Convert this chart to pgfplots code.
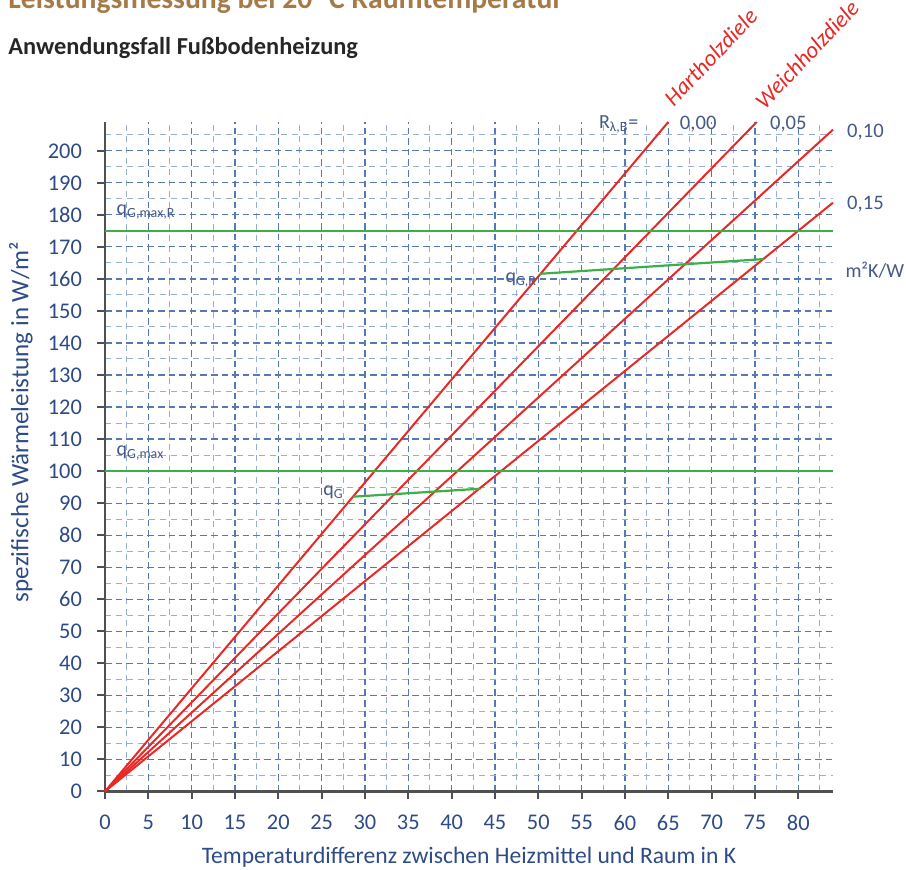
\documentclass[border=0pt]{standalone}
\usepackage{fontspec}
\setmainfont{Carlito}
\usepackage{pgfplots}
\pgfplotsset{compat=1.18}
\definecolor{tickblue}{RGB}{45,75,135}
\definecolor{gridmaj}{RGB}{85,120,185}
\definecolor{gridmin}{RGB}{150,175,215}
\definecolor{redl}{RGB}{232,40,36}
\definecolor{greenl}{RGB}{60,175,70}
\definecolor{annot}{RGB}{70,90,135}
\definecolor{titlebrown}{RGB}{165,122,70}
\definecolor{axisgray}{RGB}{80,80,80}
\begin{document}
\begin{tikzpicture}
\begin{axis}[
  at={(0,0)}, anchor=south west, scale only axis,
  width=364pt, height=334.7pt,
  xmin=0, xmax=84, ymin=0, ymax=209,
  axis lines*=left,
  axis line style={axisgray, line width=1.2pt, -},
  xtick={0,5,...,80}, ytick={0,10,...,200},
  minor xtick={2.5,7.5,...,82.5}, minor ytick={5,15,...,205},
  grid=both,
  major grid style={gridmaj, line width=0.6pt, dash pattern=on 3.3pt off 2pt},
  minor grid style={gridmin, line width=0.5pt, dash pattern=on 3pt off 2.5pt},
  tick align=outside, major tick length=4pt, minor tick length=0pt,
  tick style={axisgray, line width=1pt},
  /pgf/number format/assume math mode=true,
  xticklabel style={font=\fontsize{11.2}{13}\selectfont, text=tickblue, yshift=-4.5pt},
  yticklabel style={font=\fontsize{11.2}{13}\selectfont, text=tickblue, xshift=-4pt},
  clip=false,
]
% red lines (R = 0.00, 0.05, 0.10, 0.15 m2K/W)
\addplot[redl, line width=1pt] coordinates {(0,0) (65,209)};
\addplot[redl, line width=1pt] coordinates {(0,0) (75.2,209)};
\addplot[redl, line width=1pt] coordinates {(0,0) (84,206.6)};
\addplot[redl, line width=1pt] coordinates {(0,0) (84,183.8)};
% green lines
\addplot[greenl, line width=1pt] coordinates {(0,175) (84,175)};
\addplot[greenl, line width=1pt] coordinates {(0,100) (84,100)};
\addplot[greenl, line width=1.1pt] coordinates {(28.6,92) (43.3,94.5)};
\addplot[greenl, line width=1.1pt] coordinates {(50.2,161.6) (76,166.2)};
% annotations
\node[anchor=west, text=annot, font=\fontsize{10}{12}\selectfont, inner sep=0pt] at (axis cs:1.3,181) {q\textsubscript{G,max,R}};
\node[anchor=west, text=annot, font=\fontsize{10}{12}\selectfont, inner sep=0pt] at (axis cs:1.3,105.5) {q\textsubscript{G,max}};
\node[anchor=east, text=annot, font=\fontsize{10}{12}\selectfont, inner sep=0pt] at (axis cs:27.6,93.5) {q\textsubscript{G}};
\node[anchor=east, text=annot, font=\fontsize{10}{12}\selectfont, inner sep=0pt] at (axis cs:49.9,159.5) {q\textsubscript{G,R}};
\node[anchor=east, text=annot, font=\fontsize{10}{12}\selectfont, inner sep=0pt] at (axis cs:61.6,208.3) {R\textsubscript{λ,B}=};
\node[anchor=west, text=annot, font=\fontsize{10.3}{12}\selectfont, inner sep=0pt] at (axis cs:66.3,208.3) {0,00};
\node[anchor=west, text=annot, font=\fontsize{10.3}{12}\selectfont, inner sep=0pt] at (axis cs:76.7,208.3) {0,05};
\node[anchor=west, text=annot, font=\fontsize{10.3}{12}\selectfont, inner sep=0pt] at (axis cs:85.6,205.7) {0,10};
\node[anchor=west, text=annot, font=\fontsize{10.3}{12}\selectfont, inner sep=0pt] at (axis cs:85.6,183.3) {0,15};
\node[anchor=west, text=annot, font=\fontsize{10}{12}\selectfont, inner sep=0pt] at (axis cs:85.4,162.8) {m²K/W};
\node[anchor=base west, rotate=46.5, text=redl, font=\itshape\fontsize{11.5}{13}\selectfont, inner sep=0pt] at (axis cs:65.6,213.5) {Hartholzdiele};
\node[anchor=base west, rotate=46.5, text=redl, font=\itshape\fontsize{11.5}{13}\selectfont, inner sep=0pt] at (axis cs:76.1,212.6) {Weichholzdiele};
\end{axis}
% axis labels
\node[text=tickblue, font=\fontsize{11.8}{14}\selectfont] at (182pt,-32.8pt) {Temperaturdifferenz zwischen Heizmittel und Raum in K};
\node[text=tickblue, font=\fontsize{12.5}{14}\selectfont, rotate=90] at (-42pt,184.7pt) {spezifische Wärmeleistung in W/m²};
% titles
\node[anchor=base west, text=titlebrown, font=\bfseries\fontsize{14.8}{17}\selectfont, inner sep=0pt] at (-48.5pt,391.2pt) {Leistungsmessung bei 20 °C Raumtemperatur};
\node[anchor=base west, text=black!85, font=\bfseries\fontsize{12.2}{14}\selectfont, inner sep=0pt] at (-48.5pt,368.2pt) {Anwendungsfall Fußbodenheizung};
\pgfresetboundingbox
\useasboundingbox (-52.5pt,-39.3pt) rectangle (400.5pt,395.7pt);
\end{tikzpicture}
\end{document}
